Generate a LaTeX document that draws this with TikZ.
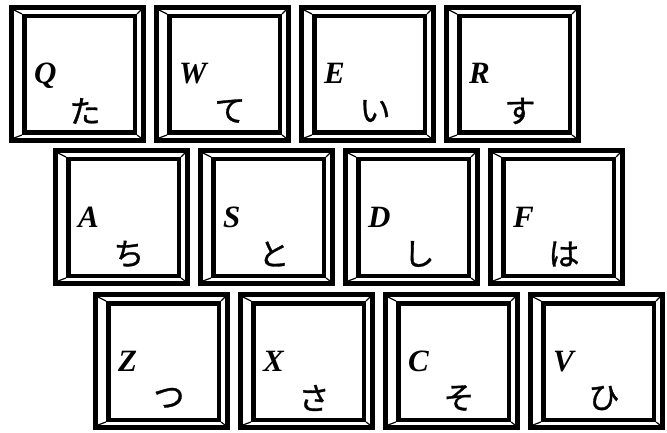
\documentclass[tikz,border=0pt]{standalone}
\usepackage{fontspec}
\setmainfont{Liberation Serif}
\newfontfamily\kanafont[FakeBold=1]{Noto Sans CJK JP}
\usepackage{tikz}
\usetikzlibrary{positioning,calc}

\tikzset{
    keyframe/.style={draw=black, line width=5pt},
    keyinner/.style={draw=black, line width=4.5pt},
    keybevel/.style={draw=black, line width=1.2pt},
    keyletter/.style={font=\fontsize{31}{31}\selectfont\bfseries\itshape, inner sep=0pt, anchor=base west},
    keykana/.style={font=\kanafont\fontsize{31}{31}\selectfont, inner sep=0pt}
}

\begin{document}
\begin{tikzpicture}[x=1pt, y=-1pt]
    \useasboundingbox (0,0) rectangle (667,433);

    % Three staggered rows of keys
    \foreach \ty/\lx/\keys in {
        5/9/{Q/た,W/て,E/い,R/す},
        148/53/{A/ち,S/と,D/し,F/は},
        292/93/{Z/つ,X/さ,C/そ,V/ひ}} {
      \foreach \ltr/\kana [count=\i from 0] in \keys {
        \pgfmathsetmacro{\kx}{\lx+145*\i}
        % Outer and inner frame
        \draw[keyframe] (\kx+2.5,\ty+2.5) rectangle (\kx+134.5,\ty+135.5);
        \draw[keyinner] (\kx+15.25,\ty+11.25) rectangle (\kx+125.75,\ty+127.75);
        % Bevel corners
        \draw[keybevel] (\kx+5,\ty+5) -- (\kx+13,\ty+9);
        \draw[keybevel] (\kx+132,\ty+5) -- (\kx+128,\ty+9);
        \draw[keybevel] (\kx+5,\ty+133) -- (\kx+13,\ty+130);
        \draw[keybevel] (\kx+132,\ty+133) -- (\kx+128,\ty+130);
        % Labels
        \node[keyletter] (key-\ltr) at (\kx+25,\ty+79) {\ltr};
        \node[keykana] (kana-\ltr) at (\kx+76,\ty+106) {\kana};
      }
    }
\end{tikzpicture}
\end{document}
